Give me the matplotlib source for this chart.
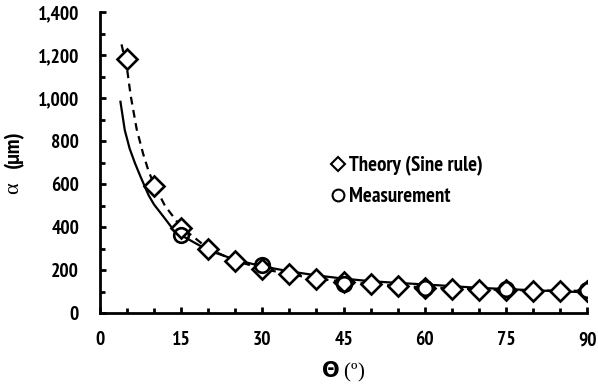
import matplotlib
matplotlib.use("Agg")
import matplotlib.pyplot as plt
from matplotlib.lines import Line2D
from matplotlib.ticker import MultipleLocator, FuncFormatter

# Theory (sine rule) markers
theta_theory = [5, 10, 15, 20, 25, 30, 35, 40, 45, 50, 55, 60, 65, 70, 75, 80, 85, 90]
alpha_theory = [1180, 592, 395, 300, 243, 205, 180, 160, 145, 135, 125, 118, 113, 109, 106, 104, 103, 103]

# Measurement markers
theta_meas = [15, 30, 45, 60, 75, 90]
alpha_meas = [365, 222, 135, 116, 110, 105]

# dashed trend line (theory)
theta_dash = [4.0, 5, 5.7, 6.8, 8, 9, 10, 12, 15, 20, 25, 30, 35, 40, 45, 50, 60, 70, 80, 90]
alpha_dash = [1250, 1140, 1010, 855, 740, 660, 598, 500, 400, 300, 243, 206, 180, 160, 146, 134, 119, 110, 105, 103]

theta_solid = [3.8, 4.6, 5.5, 6.5, 7.5, 9, 10, 12, 13.5, 15, 20, 25, 30, 35, 40, 45, 50, 55, 60, 70, 80, 90]
alpha_solid = [983, 851, 765, 696, 635, 548, 505, 440, 390, 362, 292, 248, 217, 194, 175, 160, 148, 140, 133, 117, 106, 96]

SANS = ["PT Sans Narrow", "DejaVu Sans"]
SERIF = ["Liberation Serif", "DejaVu Serif"]

fig = plt.figure(figsize=(5.98, 3.92), dpi=100)
ax = fig.add_axes([0.167, 0.2015, 0.815, 0.7675])

ax.plot(theta_dash, alpha_dash, color="black", lw=1.6, ls=(0, (3.5, 2.5)), zorder=2)
ax.plot(theta_solid, alpha_solid, color="black", lw=1.6, zorder=2)
ax.plot(theta_theory, alpha_theory, ls="none", marker="D", ms=10.5, mfc="white",
        mec="black", mew=1.9, zorder=3)
ax.plot(theta_meas, alpha_meas, ls="none", marker="o", ms=10.5, mfc="none",
        mec="black", mew=1.9, zorder=4)

ax.set_xlim(0, 90)
ax.set_ylim(0, 1400)
ax.xaxis.set_major_locator(MultipleLocator(15))
ax.xaxis.set_minor_locator(MultipleLocator(5))
ax.yaxis.set_major_locator(MultipleLocator(200))
ax.yaxis.set_minor_locator(MultipleLocator(100))
ax.yaxis.set_major_formatter(FuncFormatter(lambda v, p: f"{int(v):,}"))

ax.spines[["top", "right"]].set_visible(False)
for s in ["left", "bottom"]:
    ax.spines[s].set_linewidth(2)
ax.tick_params(which="both", direction="in", width=2, color="black")
ax.tick_params(which="major", length=4)
ax.tick_params(which="minor", length=3.5)
ax.tick_params(axis="x", which="major", pad=13)
ax.tick_params(axis="y", which="major", pad=15)
for lab in ax.get_xticklabels() + ax.get_yticklabels():
    lab.set_family(SANS)
    lab.set_fontweight("bold")
    lab.set_fontsize(14)

# x label: bold theta, regular "(º)"
ax.set_xlabel(r"$\mathbf{\Theta}$ (º)", family=SERIF, fontsize=15)
ax.xaxis.set_label_coords(0.5, -0.155)

# y label: serif alpha, bold sans "(µm)"
ax.text(-0.176, 0.415, "α", transform=ax.transAxes, rotation=90, ha="center",
        va="center", family=SERIF, fontsize=16)
ax.text(-0.176, 0.545, "(µm)", transform=ax.transAxes, rotation=90, ha="center",
        va="center", family=SANS, fontsize=16, fontweight="bold")

handles = [
    Line2D([], [], ls="none", marker="D", ms=7, mfc="white", mec="black", mew=1.5),
    Line2D([], [], ls="none", marker="o", ms=8.5, mfc="none", mec="black", mew=1.5),
]
ax.legend(handles, ["Theory (Sine rule)", "Measurement"], loc="upper left",
          bbox_to_anchor=(0.44, 0.585), frameon=False, handlelength=0.5,
          handletextpad=0.25, labelspacing=0.55,
          prop={"family": SANS, "weight": "bold", "size": 15})

fig.savefig("out.png", dpi=100)
